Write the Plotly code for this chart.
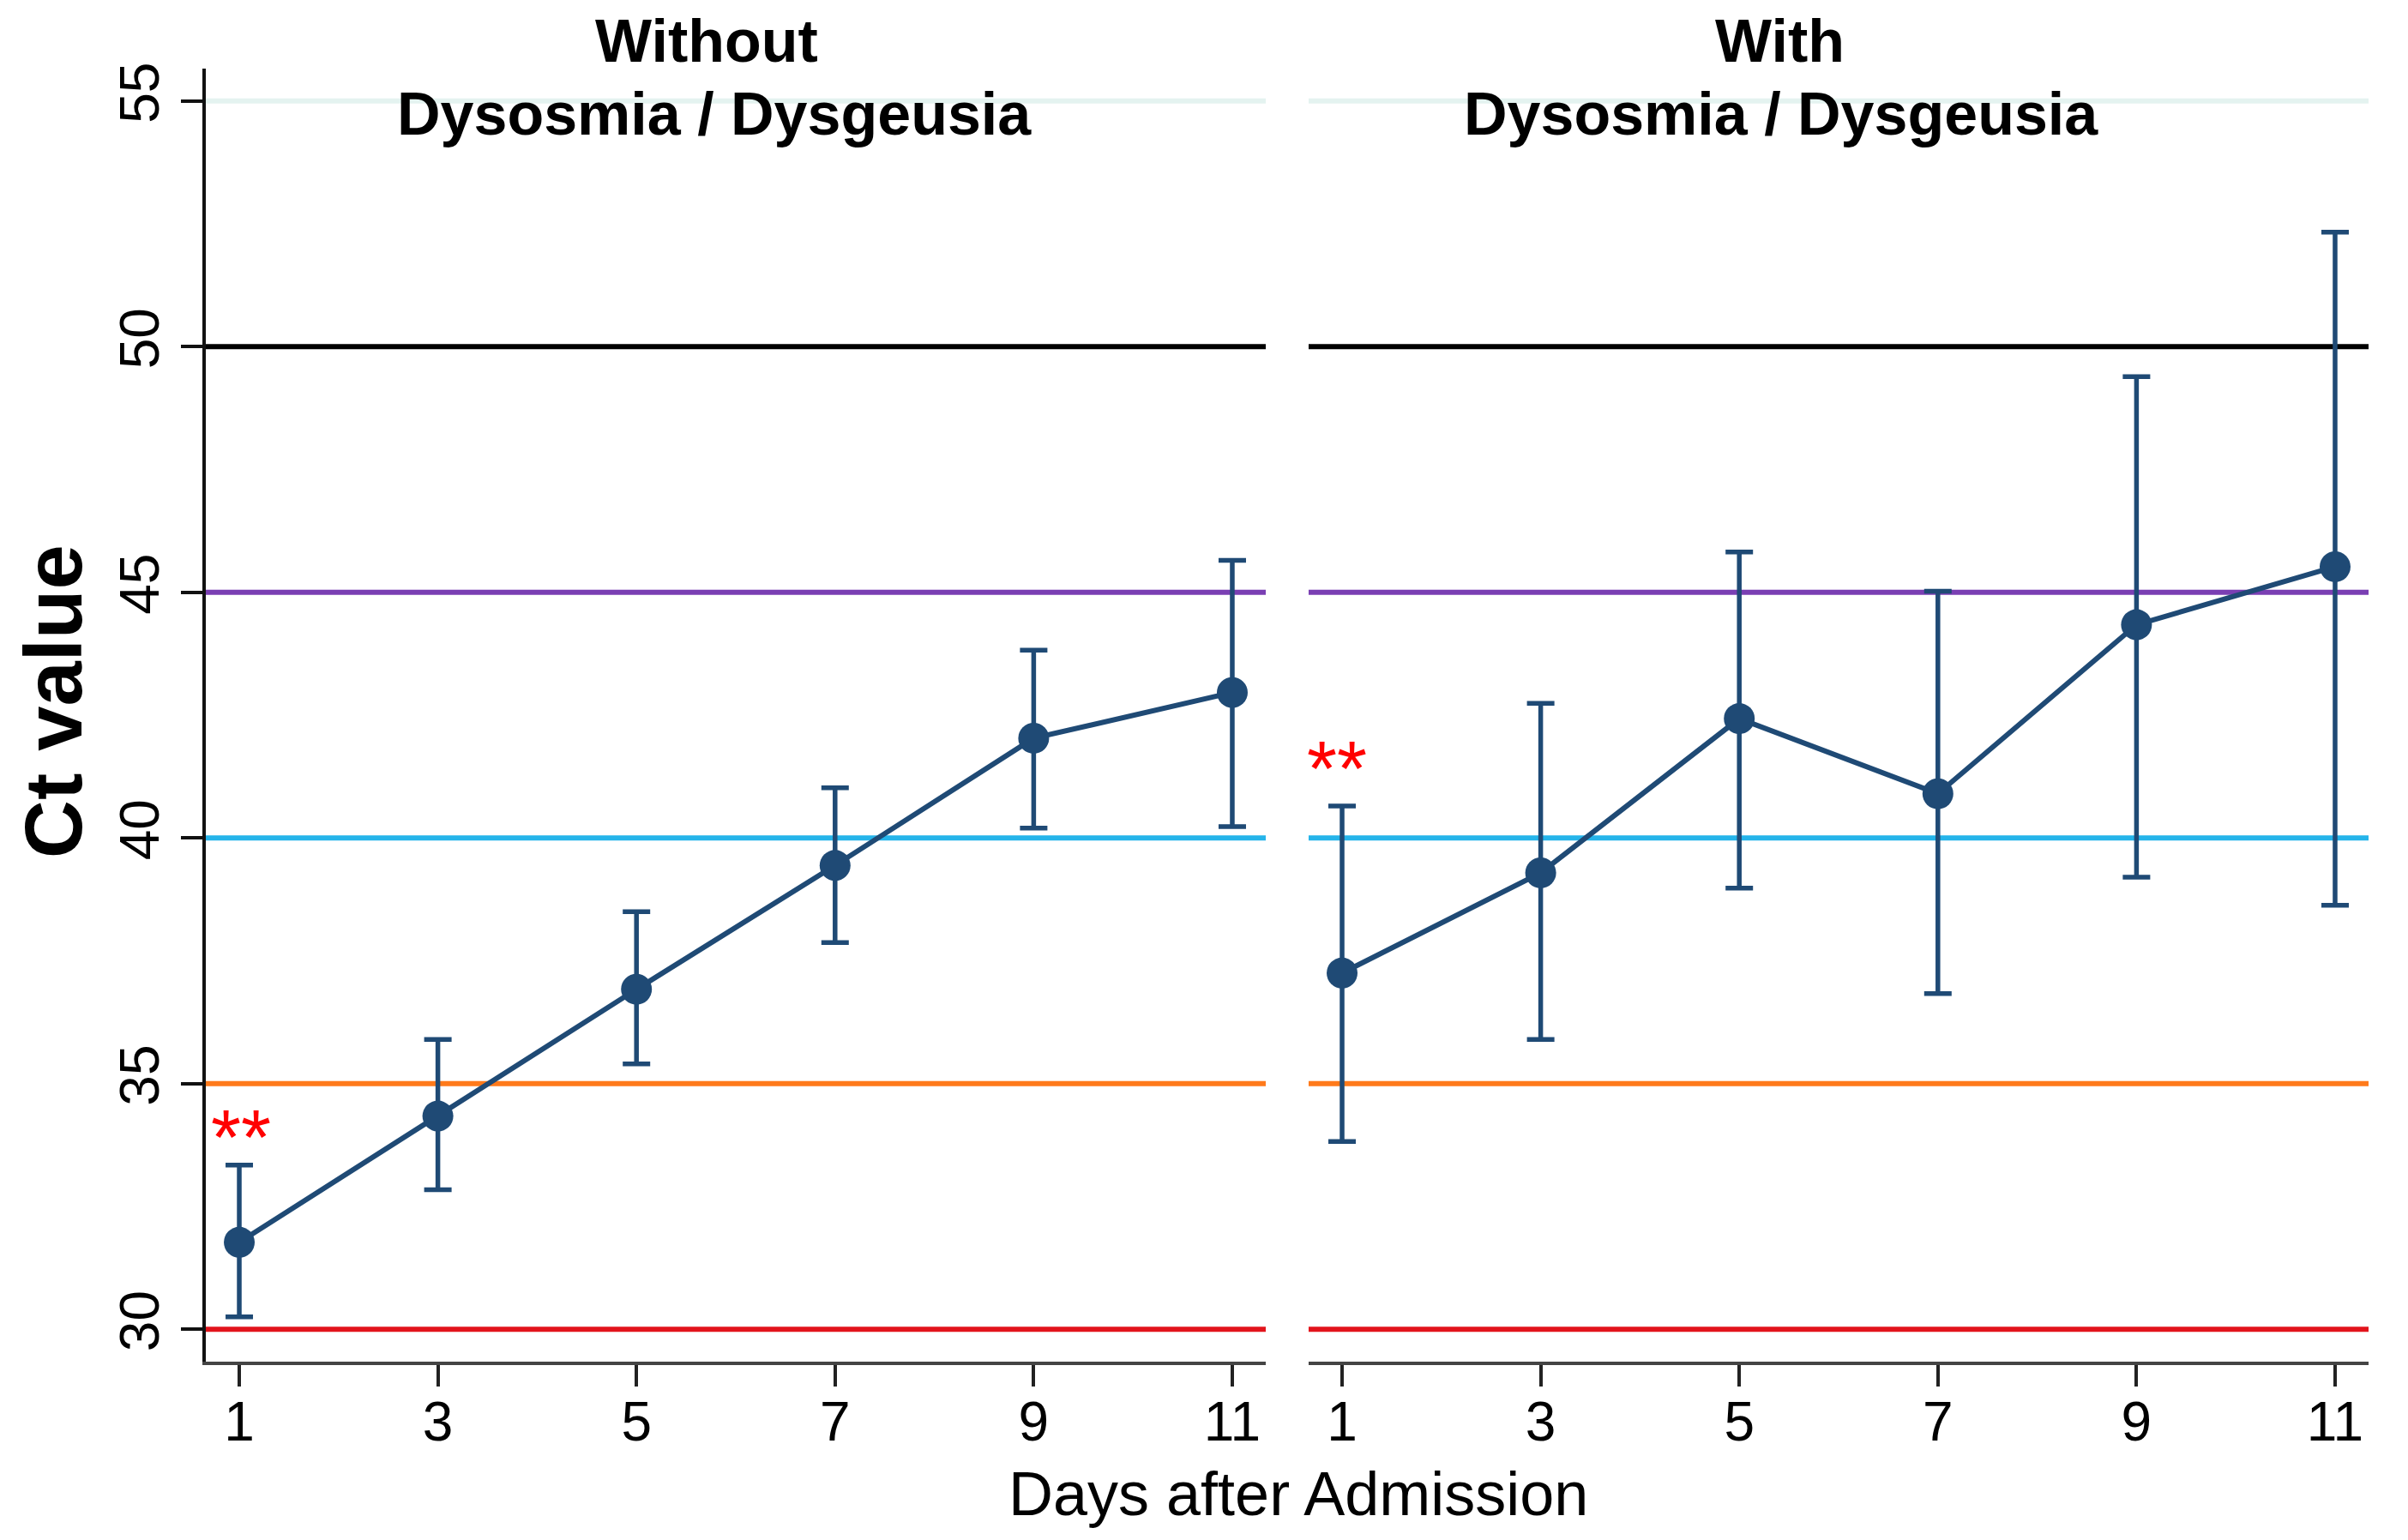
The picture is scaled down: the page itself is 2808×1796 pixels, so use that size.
import plotly.graph_objects as go

# ---- data ----
days = [1, 3, 5, 7, 9, 11]
without_mean = [31.77, 34.34, 36.92, 39.44, 42.03, 42.96]
without_upper = [33.34, 35.90, 38.50, 41.02, 43.82, 45.65]
without_lower = [30.25, 32.84, 35.40, 37.87, 40.20, 40.23]
with_mean = [37.25, 39.29, 42.43, 40.90, 44.34, 45.52]
with_upper = [40.65, 42.74, 45.82, 45.02, 49.39, 52.33]
with_lower = [33.82, 35.90, 38.98, 36.83, 39.20, 38.63]

ref_values = [30, 35, 40, 45, 50, 55]
ref_colors = ["#e2141c", "#ff7a1a", "#25b4ea", "#7a3fb3", "#000000", "#e4f3f0"]

y_ticks = [30, 35, 40, 45, 50, 55]
x_ticks = [1, 3, 5, 7, 9, 11]

panel_titles = [("Without", "Dysosmia / Dysgeusia"), ("With", "Dysosmia / Dysgeusia")]
sig_marks = [(1.02, 34.25, "**"), (0.95, 41.75, "**")]

FONT = "Liberation Sans, Arial, Helvetica, sans-serif"
NAVY = "#1f4a75"

W, H = 2808, 1796
ML, MR, MT, MB = 232, 54, 72, 216
PW = W - ML - MR
PH = H - MT - MB


def px_to_paper_x(px):
    return (px - ML) / PW


def px_to_paper_y(py):
    return (H - MB - py) / PH


fig = go.Figure()

series = [
    (without_mean, without_upper, without_lower, "x", "y"),
    (with_mean, with_upper, with_lower, "x2", "y2"),
]
for mean, up, lo, xa, ya in series:
    fig.add_trace(go.Scatter(
        x=days, y=mean, xaxis=xa, yaxis=ya,
        mode="lines+markers",
        line=dict(color=NAVY, width=6),
        marker=dict(color=NAVY, size=36),
        error_y=dict(type="data", symmetric=False,
                     array=[u - m for u, m in zip(up, mean)],
                     arrayminus=[m - l for m, l in zip(mean, lo)],
                     color=NAVY, thickness=5.5, width=16),
        showlegend=False, hoverinfo="x+y",
    ))

shapes = []
for xd in ["x domain", "x2 domain"]:
    yr = "y" if xd == "x domain" else "y2"
    for v, c in zip(ref_values, ref_colors):
        shapes.append(dict(type="line", xref=xd, yref=yr, x0=0, x1=1, y0=v, y1=v,
                           line=dict(color=c, width=6), layer="below"))

annotations = []
# panel titles
title_pos = [((816, 825), (40, 125)), ((2067, 2069), (40, 125))]
for (t1, t2), ((x1, x2), (y1, y2)) in zip(panel_titles, title_pos):
    annotations.append(dict(text="<b>%s</b>" % t1, xref="paper", yref="paper",
                            x=px_to_paper_x(x1), y=px_to_paper_y(y1),
                            xanchor="center", yanchor="middle", showarrow=False,
                            font=dict(family=FONT, size=70, color="black")))
    annotations.append(dict(text="<b>%s</b>" % t2, xref="paper", yref="paper",
                            x=px_to_paper_x(x2), y=px_to_paper_y(y2),
                            xanchor="center", yanchor="middle", showarrow=False,
                            font=dict(family=FONT, size=70, color="black")))
# significance marks
for (sx, sy, st), (xr, yr) in zip(sig_marks, [("x", "y"), ("x2", "y2")]):
    annotations.append(dict(text=st, xref=xr, yref=yr, x=sx, y=sy, yshift=-20,
                            xanchor="center", yanchor="middle", showarrow=False,
                            font=dict(family=FONT, size=90, color="#ff0000")))
# y title
annotations.append(dict(text="<b>Ct value</b>", xref="paper", yref="paper",
                        x=px_to_paper_x(54), y=px_to_paper_y(810), textangle=-90,
                        xanchor="center", yanchor="middle", showarrow=False,
                        font=dict(family=FONT, size=94, color="black")))
# x title
annotations.append(dict(text="Days after Admission", xref="paper", yref="paper",
                        x=px_to_paper_x(1506), y=px_to_paper_y(1734),
                        xanchor="center", yanchor="middle", showarrow=False,
                        font=dict(family=FONT, size=72, color="black")))

xrange = [0.663, 11.337]
yrange = [29.34, 55.66]
d1_end = px_to_paper_x(1468)
d2_start = px_to_paper_x(1518)

xaxis_common = dict(range=xrange, tickvals=x_ticks, ticktext=[str(t) for t in x_ticks],
                    showgrid=False, zeroline=False, showline=True, linecolor="#444444",
                    linewidth=4, ticks="outside", ticklen=25, tickwidth=4, tickcolor="#222222",
                    tickfont=dict(family=FONT, size=64, color="black"), ticklabelstandoff=-14,
                    fixedrange=True)

fig.update_layout(
    width=W, height=H,
    margin=dict(l=ML, r=MR, t=MT, b=MB),
    paper_bgcolor="white", plot_bgcolor="white",
    xaxis=dict(domain=[0, d1_end], anchor="y", **xaxis_common),
    xaxis2=dict(domain=[d2_start, 1], anchor="y2", **xaxis_common),
    yaxis=dict(domain=[0, 1], anchor="x", range=yrange, tickvals=y_ticks,
               ticktext=[str(t) for t in y_ticks], tickangle=-90,
               showgrid=False, zeroline=False, showline=True, linecolor="#111111",
               linewidth=4, ticks="outside", ticklen=25, tickwidth=4, tickcolor="#111111",
               tickfont=dict(family=FONT, size=64, color="black"), ticklabelstandoff=0,
               fixedrange=True),
    yaxis2=dict(domain=[0, 1], anchor="x2", range=yrange, showticklabels=False,
                showgrid=False, zeroline=False, showline=False, ticks="", fixedrange=True),
    shapes=shapes,
    annotations=annotations,
)

fig.write_html("out.html")
